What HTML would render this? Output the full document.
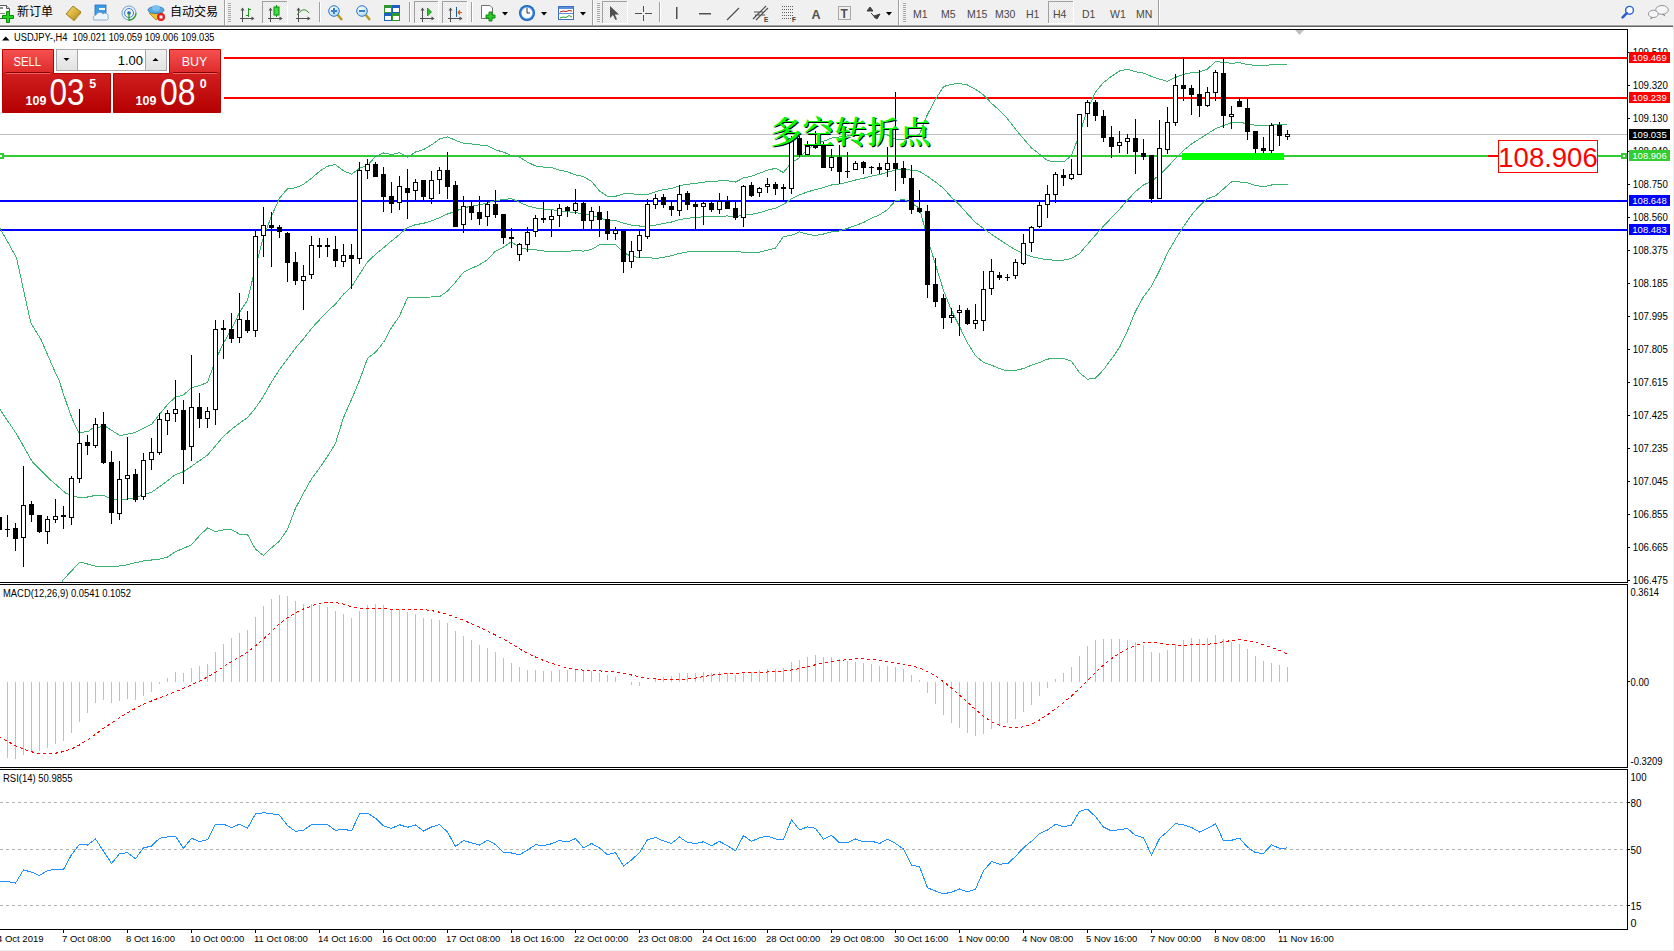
<!DOCTYPE html>
<html><head><meta charset="utf-8"><title>USDJPY-,H4</title>
<style>
html,body{margin:0;padding:0;}
body{width:1674px;height:951px;overflow:hidden;background:#F0F0F0;position:relative;font-family:"Liberation Sans", "Noto Sans CJK SC", sans-serif;}
svg{position:absolute;left:0;top:0;display:block;}
</style></head><body>
<svg id="chart" width="1674" height="951" viewBox="0 0 1674 951"><rect x="0" y="27" width="1673" height="923" fill="#fff"/><defs><clipPath id="cm"><rect x="0" y="30" width="1627" height="552"/></clipPath><clipPath id="cd"><rect x="0" y="585" width="1627" height="182"/></clipPath><clipPath id="cr"><rect x="0" y="770" width="1627" height="159"/></clipPath></defs><g clip-path="url(#cm)"><rect x="0" y="134" width="1627" height="1" fill="#C0C0C0"/><rect x="0" y="57" width="1627" height="2" fill="#FF0000"/><rect x="0" y="97" width="1627" height="2" fill="#FF0000"/><rect x="0" y="155" width="1627" height="2" fill="#32CD32"/><rect x="0" y="200" width="1627" height="2" fill="#0000FF"/><rect x="0" y="229" width="1627" height="2" fill="#0000FF"/><rect x="1182" y="153" width="102" height="7" fill="#00FF00"/><rect x="1621" y="153" width="6" height="6" fill="#32CD32"/><rect x="1623" y="155" width="2" height="2" fill="#fff"/><rect x="-2" y="153" width="6" height="6" fill="#32CD32"/><rect x="0" y="155" width="2" height="2" fill="#fff"/><rect x="1488" y="155" width="10" height="2" fill="#FF0000"/><rect x="1498.5" y="140.5" width="99" height="32" fill="#fff" stroke="#FF0000" stroke-width="1"/><text x="1548" y="167" font-family='"Liberation Sans", "Noto Sans CJK SC", sans-serif' font-size="27.5" fill="#FF0000" text-anchor="middle">108.906</text><polyline points="-1.0,226.7 16.4,257.4 30.8,323.0 41.0,339.5 53.3,368.0 58.9,380.0 63.0,392.6 69.4,411.5 73.6,422.0 78.8,432.6 88.0,431.5 92.5,428.4 105.0,426.0 113.5,431.5 120.0,435.7 134.6,432.6 151.5,424.4 159.5,414.3 167.5,404.6 175.5,397.1 183.5,395.0 191.5,387.6 199.5,385.6 207.5,382.4 215.5,360.1 223.5,343.0 231.5,329.2 239.5,312.4 247.5,300.4 255.5,267.0 263.5,236.8 271.5,216.2 279.5,198.1 287.5,188.8 295.5,187.8 303.5,184.4 311.5,178.2 319.5,171.4 327.5,166.2 335.5,164.6 343.5,170.8 351.5,174.2 359.5,168.3 367.5,165.5 375.5,156.4 383.5,153.0 391.5,154.5 399.5,152.7 407.5,157.2 415.5,152.0 423.5,149.6 431.5,144.9 439.5,138.9 447.5,136.9 455.5,140.3 463.5,143.3 471.5,144.0 479.5,145.0 487.5,145.9 495.5,149.8 503.5,152.2 511.5,155.6 519.5,157.0 527.5,162.2 535.5,165.9 543.5,167.1 551.5,167.6 559.5,170.1 567.5,171.8 575.5,174.9 583.5,176.6 591.5,181.4 599.5,191.0 607.5,196.4 615.5,196.3 623.5,193.9 631.5,193.8 639.5,194.4 647.5,194.6 655.5,191.8 663.5,189.6 671.5,188.5 679.5,185.7 687.5,184.3 695.5,183.4 703.5,182.1 711.5,181.6 719.5,180.9 727.5,180.8 735.5,182.0 743.5,177.9 751.5,176.3 759.5,173.2 767.5,170.2 775.5,168.3 783.5,172.6 791.5,162.4 799.5,157.8 807.5,149.7 815.5,143.4 823.5,141.3 831.5,138.1 839.5,136.9 847.5,136.0 855.5,134.7 863.5,134.0 871.5,134.2 879.5,134.3 887.5,135.0 895.5,139.1 903.5,139.4 911.5,137.2 919.5,134.2 927.5,114.4 935.5,99.3 943.5,86.6 951.5,84.2 959.5,83.6 967.5,85.0 975.5,89.3 983.5,94.8 991.5,103.3 999.5,110.5 1007.5,118.7 1015.5,129.2 1023.5,138.7 1031.5,147.9 1039.5,154.2 1047.5,160.6 1055.5,161.9 1063.5,162.0 1071.5,155.4 1079.5,134.3 1087.5,109.4 1095.5,92.1 1103.5,82.5 1111.5,76.3 1119.5,71.0 1127.5,69.2 1135.5,71.7 1143.5,73.1 1151.5,76.4 1159.5,79.1 1167.5,81.3 1175.5,77.4 1183.5,74.4 1191.5,72.8 1199.5,72.0 1207.5,69.0 1215.5,61.6 1223.5,62.4 1231.5,63.3 1239.5,62.6 1247.5,64.6 1255.5,65.3 1263.5,65.2 1271.5,64.9 1279.5,64.9 1287.5,64.8" fill="none" stroke="#3CB371" stroke-width="1" shape-rendering="crispEdges"/><polyline points="-1.0,408.0 16.4,433.8 32.8,462.5 49.2,478.8 65.6,493.0 73.6,496.7 84.0,497.7 94.6,495.6 105.0,496.0 111.4,498.8 122.0,500.0 134.6,497.7 147.0,493.5 151.5,492.2 159.5,486.7 167.5,480.9 175.5,474.4 183.5,471.7 191.5,466.3 199.5,460.6 207.5,455.2 215.5,445.8 223.5,436.4 231.5,429.4 239.5,423.3 247.5,417.5 255.5,408.1 263.5,396.2 271.5,382.0 279.5,369.6 287.5,359.0 295.5,348.0 303.5,338.8 311.5,328.5 319.5,319.8 327.5,311.4 335.5,304.0 343.5,294.2 351.5,286.8 359.5,274.3 367.5,262.0 375.5,254.3 383.5,247.8 391.5,241.0 399.5,234.4 407.5,227.4 415.5,224.7 423.5,223.3 431.5,220.9 439.5,217.8 447.5,214.0 455.5,211.3 463.5,207.8 471.5,206.2 479.5,204.8 487.5,202.8 495.5,200.5 503.5,199.6 511.5,198.6 519.5,202.3 527.5,205.8 535.5,207.9 543.5,209.0 551.5,209.6 559.5,210.7 567.5,211.6 575.5,212.7 583.5,213.8 591.5,215.4 599.5,217.9 607.5,220.3 615.5,220.4 623.5,223.2 631.5,225.1 639.5,226.0 647.5,226.0 655.5,225.2 663.5,223.5 671.5,222.0 679.5,219.6 687.5,218.2 695.5,217.6 703.5,216.7 711.5,216.4 719.5,216.1 727.5,216.0 735.5,216.8 743.5,215.1 751.5,214.3 759.5,212.7 767.5,210.2 775.5,208.1 783.5,204.5 791.5,198.9 799.5,194.9 807.5,191.9 815.5,189.5 823.5,187.6 831.5,185.0 839.5,183.9 847.5,182.2 855.5,180.0 863.5,178.3 871.5,176.1 879.5,174.6 887.5,172.3 895.5,169.8 903.5,169.4 911.5,170.1 919.5,171.3 927.5,176.4 935.5,182.0 943.5,188.4 951.5,197.3 959.5,205.0 967.5,213.9 975.5,222.5 983.5,228.6 991.5,234.3 999.5,239.6 1007.5,244.9 1015.5,249.8 1023.5,253.6 1031.5,256.6 1039.5,258.3 1047.5,259.9 1055.5,260.1 1063.5,260.2 1071.5,258.4 1079.5,253.5 1087.5,244.3 1095.5,235.1 1103.5,226.1 1111.5,217.7 1119.5,209.3 1127.5,200.0 1135.5,191.6 1143.5,184.9 1151.5,181.3 1159.5,174.9 1167.5,167.1 1175.5,158.3 1183.5,150.5 1191.5,143.9 1199.5,138.9 1207.5,133.8 1215.5,128.7 1223.5,125.6 1231.5,122.6 1239.5,122.3 1247.5,123.7 1255.5,125.4 1263.5,126.0 1271.5,124.9 1279.5,124.6 1287.5,124.5" fill="none" stroke="#3CB371" stroke-width="1" shape-rendering="crispEdges"/><polyline points="61.5,583.5 63.0,580.0 80.0,561.9 94.6,566.0 111.4,567.0 126.0,565.0 147.0,560.0 151.5,560.0 159.5,559.1 167.5,557.1 175.5,551.7 183.5,548.3 191.5,544.9 199.5,535.6 207.5,528.0 215.5,531.6 223.5,529.8 231.5,529.7 239.5,534.1 247.5,534.6 255.5,549.2 263.5,555.6 271.5,547.7 279.5,541.1 287.5,529.2 295.5,508.3 303.5,493.3 311.5,478.8 319.5,468.1 327.5,456.5 335.5,443.3 343.5,417.6 351.5,399.4 359.5,380.4 367.5,358.4 375.5,352.3 383.5,342.5 391.5,327.6 399.5,316.1 407.5,297.7 415.5,297.5 423.5,297.1 431.5,297.0 439.5,296.7 447.5,291.1 455.5,282.2 463.5,272.2 471.5,268.4 479.5,264.7 487.5,259.7 495.5,251.1 503.5,247.1 511.5,241.6 519.5,247.7 527.5,249.4 535.5,249.8 543.5,251.0 551.5,251.7 559.5,251.4 567.5,251.5 575.5,250.5 583.5,251.1 591.5,249.4 599.5,244.8 607.5,244.2 615.5,244.6 623.5,252.6 631.5,256.4 639.5,257.5 647.5,257.4 655.5,258.5 663.5,257.4 671.5,255.6 679.5,253.4 687.5,252.0 695.5,251.7 703.5,251.4 711.5,251.2 719.5,251.3 727.5,251.3 735.5,251.5 743.5,252.2 751.5,252.3 759.5,252.2 767.5,250.2 775.5,248.0 783.5,236.4 791.5,235.4 799.5,231.9 807.5,234.2 815.5,235.6 823.5,234.0 831.5,231.9 839.5,230.9 847.5,228.4 855.5,225.4 863.5,222.6 871.5,218.1 879.5,214.9 887.5,209.6 895.5,200.6 903.5,199.5 911.5,203.0 919.5,208.4 927.5,238.3 935.5,264.7 943.5,290.3 951.5,310.4 959.5,326.5 967.5,342.9 975.5,355.7 983.5,362.5 991.5,365.2 999.5,368.6 1007.5,371.0 1015.5,370.5 1023.5,368.5 1031.5,365.2 1039.5,362.5 1047.5,359.1 1055.5,358.4 1063.5,358.3 1071.5,361.3 1079.5,372.7 1087.5,379.3 1095.5,378.1 1103.5,369.7 1111.5,359.0 1119.5,347.5 1127.5,330.7 1135.5,311.4 1143.5,296.7 1151.5,286.2 1159.5,270.6 1167.5,252.9 1175.5,239.1 1183.5,226.6 1191.5,215.0 1199.5,205.8 1207.5,198.7 1215.5,195.9 1223.5,188.9 1231.5,182.0 1239.5,181.9 1247.5,182.8 1255.5,185.4 1263.5,186.9 1271.5,185.0 1279.5,184.4 1287.5,184.1" fill="none" stroke="#3CB371" stroke-width="1" shape-rendering="crispEdges"/><g fill="#000" shape-rendering="crispEdges"><rect x="-1" y="512" width="1" height="23"/><rect x="-3" y="517" width="5" height="13"/><rect x="7" y="515" width="1" height="22"/><rect x="5" y="529" width="5" height="1"/><rect x="15" y="523" width="1" height="28"/><rect x="13" y="528" width="5" height="11"/><rect x="23" y="466" width="1" height="101"/><rect x="21" y="505" width="5" height="33"/><rect x="22" y="506" width="3" height="31" fill="#fff"/><rect x="31" y="501" width="1" height="21"/><rect x="29" y="504" width="5" height="11"/><rect x="39" y="515" width="1" height="18"/><rect x="37" y="515" width="5" height="17"/><rect x="47" y="516" width="1" height="28"/><rect x="45" y="519" width="5" height="13"/><rect x="46" y="520" width="3" height="11" fill="#fff"/><rect x="55" y="499" width="1" height="24"/><rect x="53" y="516" width="5" height="4"/><rect x="54" y="517" width="3" height="2" fill="#fff"/><rect x="63" y="506" width="1" height="23"/><rect x="61" y="515" width="5" height="2"/><rect x="71" y="476" width="1" height="49"/><rect x="69" y="478" width="5" height="40"/><rect x="70" y="479" width="3" height="38" fill="#fff"/><rect x="79" y="409" width="1" height="74"/><rect x="77" y="443" width="5" height="36"/><rect x="78" y="444" width="3" height="34" fill="#fff"/><rect x="87" y="435" width="1" height="20"/><rect x="85" y="442" width="5" height="4"/><rect x="95" y="418" width="1" height="30"/><rect x="93" y="424" width="5" height="22"/><rect x="94" y="425" width="3" height="20" fill="#fff"/><rect x="103" y="412" width="1" height="52"/><rect x="101" y="424" width="5" height="39"/><rect x="111" y="451" width="1" height="73"/><rect x="109" y="462" width="5" height="51"/><rect x="119" y="461" width="1" height="59"/><rect x="117" y="479" width="5" height="35"/><rect x="118" y="480" width="3" height="33" fill="#fff"/><rect x="127" y="437" width="1" height="63"/><rect x="125" y="475" width="5" height="4"/><rect x="126" y="476" width="3" height="2" fill="#fff"/><rect x="135" y="469" width="1" height="33"/><rect x="133" y="474" width="5" height="26"/><rect x="143" y="453" width="1" height="47"/><rect x="141" y="460" width="5" height="37"/><rect x="142" y="461" width="3" height="35" fill="#fff"/><rect x="151" y="438" width="1" height="32"/><rect x="149" y="452" width="5" height="8"/><rect x="150" y="453" width="3" height="6" fill="#fff"/><rect x="159" y="413" width="1" height="42"/><rect x="157" y="419" width="5" height="34"/><rect x="158" y="420" width="3" height="32" fill="#fff"/><rect x="167" y="410" width="1" height="25"/><rect x="165" y="413" width="5" height="8"/><rect x="166" y="414" width="3" height="6" fill="#fff"/><rect x="175" y="380" width="1" height="42"/><rect x="173" y="409" width="5" height="5"/><rect x="174" y="410" width="3" height="3" fill="#fff"/><rect x="183" y="400" width="1" height="84"/><rect x="181" y="410" width="5" height="40"/><rect x="191" y="355" width="1" height="106"/><rect x="189" y="407" width="5" height="40"/><rect x="190" y="408" width="3" height="38" fill="#fff"/><rect x="199" y="393" width="1" height="35"/><rect x="197" y="407" width="5" height="12"/><rect x="207" y="407" width="1" height="21"/><rect x="205" y="411" width="5" height="8"/><rect x="206" y="412" width="3" height="6" fill="#fff"/><rect x="215" y="320" width="1" height="105"/><rect x="213" y="329" width="5" height="81"/><rect x="214" y="330" width="3" height="79" fill="#fff"/><rect x="223" y="320" width="1" height="39"/><rect x="221" y="328" width="5" height="2"/><rect x="231" y="313" width="1" height="30"/><rect x="229" y="329" width="5" height="10"/><rect x="239" y="293" width="1" height="50"/><rect x="237" y="319" width="5" height="19"/><rect x="238" y="320" width="3" height="17" fill="#fff"/><rect x="247" y="311" width="1" height="22"/><rect x="245" y="320" width="5" height="11"/><rect x="255" y="231" width="1" height="106"/><rect x="253" y="236" width="5" height="95"/><rect x="254" y="237" width="3" height="93" fill="#fff"/><rect x="263" y="207" width="1" height="50"/><rect x="261" y="225" width="5" height="11"/><rect x="262" y="226" width="3" height="9" fill="#fff"/><rect x="271" y="212" width="1" height="55"/><rect x="269" y="225" width="5" height="3"/><rect x="279" y="225" width="1" height="13"/><rect x="277" y="227" width="5" height="5"/><rect x="287" y="232" width="1" height="50"/><rect x="285" y="233" width="5" height="30"/><rect x="295" y="252" width="1" height="33"/><rect x="293" y="262" width="5" height="19"/><rect x="303" y="265" width="1" height="45"/><rect x="301" y="276" width="5" height="5"/><rect x="302" y="277" width="3" height="3" fill="#fff"/><rect x="311" y="236" width="1" height="43"/><rect x="309" y="245" width="5" height="30"/><rect x="310" y="246" width="3" height="28" fill="#fff"/><rect x="319" y="238" width="1" height="20"/><rect x="317" y="245" width="5" height="2"/><rect x="327" y="238" width="1" height="19"/><rect x="325" y="245" width="5" height="2"/><rect x="335" y="236" width="1" height="31"/><rect x="333" y="249" width="5" height="12"/><rect x="343" y="244" width="1" height="23"/><rect x="341" y="255" width="5" height="7"/><rect x="342" y="256" width="3" height="5" fill="#fff"/><rect x="351" y="244" width="1" height="45"/><rect x="349" y="255" width="5" height="4"/><rect x="359" y="162" width="1" height="102"/><rect x="357" y="170" width="5" height="89"/><rect x="358" y="171" width="3" height="87" fill="#fff"/><rect x="367" y="159" width="1" height="20"/><rect x="365" y="164" width="5" height="7"/><rect x="366" y="165" width="3" height="5" fill="#fff"/><rect x="375" y="162" width="1" height="15"/><rect x="373" y="164" width="5" height="13"/><rect x="383" y="167" width="1" height="45"/><rect x="381" y="174" width="5" height="23"/><rect x="391" y="182" width="1" height="31"/><rect x="389" y="196" width="5" height="8"/><rect x="399" y="176" width="1" height="34"/><rect x="397" y="186" width="5" height="17"/><rect x="398" y="187" width="3" height="15" fill="#fff"/><rect x="407" y="169" width="1" height="50"/><rect x="405" y="188" width="5" height="5"/><rect x="415" y="179" width="1" height="22"/><rect x="413" y="182" width="5" height="9"/><rect x="414" y="183" width="3" height="7" fill="#fff"/><rect x="423" y="180" width="1" height="20"/><rect x="421" y="180" width="5" height="17"/><rect x="431" y="171" width="1" height="33"/><rect x="429" y="180" width="5" height="19"/><rect x="430" y="181" width="3" height="17" fill="#fff"/><rect x="439" y="167" width="1" height="27"/><rect x="437" y="170" width="5" height="10"/><rect x="438" y="171" width="3" height="8" fill="#fff"/><rect x="447" y="152" width="1" height="47"/><rect x="445" y="170" width="5" height="17"/><rect x="455" y="181" width="1" height="46"/><rect x="453" y="185" width="5" height="42"/><rect x="463" y="196" width="1" height="37"/><rect x="461" y="206" width="5" height="19"/><rect x="462" y="207" width="3" height="17" fill="#fff"/><rect x="471" y="200" width="1" height="20"/><rect x="469" y="206" width="5" height="7"/><rect x="479" y="196" width="1" height="29"/><rect x="477" y="212" width="5" height="7"/><rect x="487" y="200" width="1" height="26"/><rect x="485" y="204" width="5" height="13"/><rect x="486" y="205" width="3" height="11" fill="#fff"/><rect x="495" y="190" width="1" height="28"/><rect x="493" y="204" width="5" height="11"/><rect x="503" y="214" width="1" height="30"/><rect x="501" y="214" width="5" height="24"/><rect x="511" y="228" width="1" height="20"/><rect x="509" y="237" width="5" height="2"/><rect x="519" y="243" width="1" height="18"/><rect x="517" y="244" width="5" height="11"/><rect x="518" y="245" width="3" height="9" fill="#fff"/><rect x="527" y="227" width="1" height="25"/><rect x="525" y="232" width="5" height="13"/><rect x="526" y="233" width="3" height="11" fill="#fff"/><rect x="535" y="215" width="1" height="22"/><rect x="533" y="218" width="5" height="14"/><rect x="534" y="219" width="3" height="12" fill="#fff"/><rect x="543" y="200" width="1" height="23"/><rect x="541" y="218" width="5" height="2"/><rect x="551" y="210" width="1" height="27"/><rect x="549" y="216" width="5" height="4"/><rect x="550" y="217" width="3" height="2" fill="#fff"/><rect x="559" y="204" width="1" height="23"/><rect x="557" y="208" width="5" height="8"/><rect x="558" y="209" width="3" height="6" fill="#fff"/><rect x="567" y="206" width="1" height="11"/><rect x="565" y="207" width="5" height="4"/><rect x="575" y="189" width="1" height="25"/><rect x="573" y="203" width="5" height="8"/><rect x="574" y="204" width="3" height="6" fill="#fff"/><rect x="583" y="202" width="1" height="28"/><rect x="581" y="203" width="5" height="18"/><rect x="591" y="207" width="1" height="23"/><rect x="589" y="211" width="5" height="10"/><rect x="590" y="212" width="3" height="8" fill="#fff"/><rect x="599" y="206" width="1" height="31"/><rect x="597" y="212" width="5" height="8"/><rect x="607" y="211" width="1" height="29"/><rect x="605" y="219" width="5" height="15"/><rect x="615" y="227" width="1" height="13"/><rect x="613" y="230" width="5" height="4"/><rect x="614" y="231" width="3" height="2" fill="#fff"/><rect x="623" y="231" width="1" height="42"/><rect x="621" y="231" width="5" height="31"/><rect x="631" y="241" width="1" height="27"/><rect x="629" y="251" width="5" height="11"/><rect x="630" y="252" width="3" height="9" fill="#fff"/><rect x="639" y="231" width="1" height="27"/><rect x="637" y="235" width="5" height="16"/><rect x="638" y="236" width="3" height="14" fill="#fff"/><rect x="647" y="199" width="1" height="40"/><rect x="645" y="204" width="5" height="33"/><rect x="646" y="205" width="3" height="31" fill="#fff"/><rect x="655" y="194" width="1" height="15"/><rect x="653" y="198" width="5" height="7"/><rect x="654" y="199" width="3" height="5" fill="#fff"/><rect x="663" y="194" width="1" height="14"/><rect x="661" y="197" width="5" height="8"/><rect x="671" y="202" width="1" height="14"/><rect x="669" y="206" width="5" height="4"/><rect x="679" y="185" width="1" height="31"/><rect x="677" y="194" width="5" height="17"/><rect x="678" y="195" width="3" height="15" fill="#fff"/><rect x="687" y="191" width="1" height="19"/><rect x="685" y="193" width="5" height="12"/><rect x="695" y="202" width="1" height="28"/><rect x="693" y="204" width="5" height="3"/><rect x="703" y="202" width="1" height="23"/><rect x="701" y="203" width="5" height="4"/><rect x="702" y="204" width="3" height="2" fill="#fff"/><rect x="711" y="201" width="1" height="11"/><rect x="709" y="203" width="5" height="7"/><rect x="719" y="193" width="1" height="21"/><rect x="717" y="201" width="5" height="9"/><rect x="718" y="202" width="3" height="7" fill="#fff"/><rect x="727" y="196" width="1" height="13"/><rect x="725" y="201" width="5" height="8"/><rect x="735" y="202" width="1" height="18"/><rect x="733" y="208" width="5" height="10"/><rect x="743" y="185" width="1" height="42"/><rect x="741" y="186" width="5" height="32"/><rect x="742" y="187" width="3" height="30" fill="#fff"/><rect x="751" y="182" width="1" height="15"/><rect x="749" y="185" width="5" height="11"/><rect x="759" y="187" width="1" height="10"/><rect x="757" y="188" width="5" height="5"/><rect x="758" y="189" width="3" height="3" fill="#fff"/><rect x="767" y="178" width="1" height="15"/><rect x="765" y="184" width="5" height="3"/><rect x="766" y="185" width="3" height="1" fill="#fff"/><rect x="775" y="182" width="1" height="13"/><rect x="773" y="184" width="5" height="5"/><rect x="783" y="184" width="1" height="17"/><rect x="781" y="187" width="5" height="2"/><rect x="791" y="136" width="1" height="58"/><rect x="789" y="138" width="5" height="51"/><rect x="790" y="139" width="3" height="49" fill="#fff"/><rect x="799" y="136" width="1" height="21"/><rect x="797" y="138" width="5" height="17"/><rect x="807" y="141" width="1" height="14"/><rect x="805" y="146" width="5" height="9"/><rect x="806" y="147" width="3" height="7" fill="#fff"/><rect x="815" y="131" width="1" height="18"/><rect x="813" y="145" width="5" height="3"/><rect x="823" y="142" width="1" height="26"/><rect x="821" y="146" width="5" height="22"/><rect x="831" y="149" width="1" height="22"/><rect x="829" y="157" width="5" height="11"/><rect x="830" y="158" width="3" height="9" fill="#fff"/><rect x="839" y="145" width="1" height="39"/><rect x="837" y="157" width="5" height="15"/><rect x="847" y="152" width="1" height="26"/><rect x="845" y="171" width="5" height="1"/><rect x="855" y="161" width="1" height="9"/><rect x="853" y="163" width="5" height="7"/><rect x="854" y="164" width="3" height="5" fill="#fff"/><rect x="863" y="161" width="1" height="13"/><rect x="861" y="162" width="5" height="6"/><rect x="871" y="166" width="1" height="8"/><rect x="869" y="167" width="5" height="1"/><rect x="879" y="163" width="1" height="11"/><rect x="877" y="167" width="5" height="3"/><rect x="887" y="147" width="1" height="30"/><rect x="885" y="163" width="5" height="7"/><rect x="886" y="164" width="3" height="5" fill="#fff"/><rect x="895" y="92" width="1" height="99"/><rect x="893" y="163" width="5" height="6"/><rect x="903" y="161" width="1" height="23"/><rect x="901" y="168" width="5" height="10"/><rect x="911" y="165" width="1" height="49"/><rect x="909" y="178" width="5" height="32"/><rect x="919" y="190" width="1" height="23"/><rect x="917" y="208" width="5" height="4"/><rect x="927" y="205" width="1" height="93"/><rect x="925" y="211" width="5" height="74"/><rect x="935" y="258" width="1" height="49"/><rect x="933" y="284" width="5" height="18"/><rect x="943" y="294" width="1" height="35"/><rect x="941" y="298" width="5" height="20"/><rect x="951" y="308" width="1" height="15"/><rect x="949" y="315" width="5" height="3"/><rect x="950" y="316" width="3" height="1" fill="#fff"/><rect x="959" y="305" width="1" height="31"/><rect x="957" y="310" width="5" height="3"/><rect x="958" y="311" width="3" height="1" fill="#fff"/><rect x="967" y="308" width="1" height="17"/><rect x="965" y="310" width="5" height="14"/><rect x="975" y="304" width="1" height="25"/><rect x="973" y="320" width="5" height="4"/><rect x="974" y="321" width="3" height="2" fill="#fff"/><rect x="983" y="271" width="1" height="60"/><rect x="981" y="289" width="5" height="32"/><rect x="982" y="290" width="3" height="30" fill="#fff"/><rect x="991" y="259" width="1" height="36"/><rect x="989" y="271" width="5" height="18"/><rect x="990" y="272" width="3" height="16" fill="#fff"/><rect x="999" y="272" width="1" height="8"/><rect x="997" y="275" width="5" height="3"/><rect x="1007" y="274" width="1" height="7"/><rect x="1005" y="277" width="5" height="1"/><rect x="1015" y="259" width="1" height="20"/><rect x="1013" y="262" width="5" height="14"/><rect x="1014" y="263" width="3" height="12" fill="#fff"/><rect x="1023" y="234" width="1" height="31"/><rect x="1021" y="243" width="5" height="21"/><rect x="1022" y="244" width="3" height="19" fill="#fff"/><rect x="1031" y="226" width="1" height="26"/><rect x="1029" y="227" width="5" height="16"/><rect x="1030" y="228" width="3" height="14" fill="#fff"/><rect x="1039" y="202" width="1" height="26"/><rect x="1037" y="205" width="5" height="22"/><rect x="1038" y="206" width="3" height="20" fill="#fff"/><rect x="1047" y="185" width="1" height="33"/><rect x="1045" y="194" width="5" height="11"/><rect x="1046" y="195" width="3" height="9" fill="#fff"/><rect x="1055" y="172" width="1" height="31"/><rect x="1053" y="174" width="5" height="21"/><rect x="1054" y="175" width="3" height="19" fill="#fff"/><rect x="1063" y="169" width="1" height="17"/><rect x="1061" y="175" width="5" height="3"/><rect x="1071" y="159" width="1" height="21"/><rect x="1069" y="174" width="5" height="5"/><rect x="1070" y="175" width="3" height="3" fill="#fff"/><rect x="1079" y="114" width="1" height="61"/><rect x="1077" y="114" width="5" height="61"/><rect x="1078" y="115" width="3" height="59" fill="#fff"/><rect x="1087" y="100" width="1" height="27"/><rect x="1085" y="102" width="5" height="12"/><rect x="1086" y="103" width="3" height="10" fill="#fff"/><rect x="1095" y="100" width="1" height="21"/><rect x="1093" y="102" width="5" height="14"/><rect x="1103" y="110" width="1" height="32"/><rect x="1101" y="116" width="5" height="22"/><rect x="1111" y="126" width="1" height="32"/><rect x="1109" y="137" width="5" height="10"/><rect x="1119" y="131" width="1" height="22"/><rect x="1117" y="142" width="5" height="4"/><rect x="1118" y="143" width="3" height="2" fill="#fff"/><rect x="1127" y="134" width="1" height="20"/><rect x="1125" y="138" width="5" height="4"/><rect x="1126" y="139" width="3" height="2" fill="#fff"/><rect x="1135" y="119" width="1" height="55"/><rect x="1133" y="138" width="5" height="14"/><rect x="1143" y="139" width="1" height="21"/><rect x="1141" y="153" width="5" height="4"/><rect x="1151" y="155" width="1" height="48"/><rect x="1149" y="155" width="5" height="44"/><rect x="1159" y="120" width="1" height="79"/><rect x="1157" y="148" width="5" height="51"/><rect x="1158" y="149" width="3" height="49" fill="#fff"/><rect x="1167" y="107" width="1" height="47"/><rect x="1165" y="122" width="5" height="28"/><rect x="1166" y="123" width="3" height="26" fill="#fff"/><rect x="1175" y="74" width="1" height="52"/><rect x="1173" y="85" width="5" height="38"/><rect x="1174" y="86" width="3" height="36" fill="#fff"/><rect x="1183" y="57" width="1" height="44"/><rect x="1181" y="85" width="5" height="4"/><rect x="1191" y="85" width="1" height="30"/><rect x="1189" y="88" width="5" height="7"/><rect x="1199" y="70" width="1" height="47"/><rect x="1197" y="94" width="5" height="12"/><rect x="1207" y="87" width="1" height="20"/><rect x="1205" y="92" width="5" height="14"/><rect x="1206" y="93" width="3" height="12" fill="#fff"/><rect x="1215" y="70" width="1" height="31"/><rect x="1213" y="72" width="5" height="21"/><rect x="1214" y="73" width="3" height="19" fill="#fff"/><rect x="1223" y="58" width="1" height="70"/><rect x="1221" y="73" width="5" height="43"/><rect x="1231" y="106" width="1" height="23"/><rect x="1229" y="114" width="5" height="3"/><rect x="1230" y="115" width="3" height="1" fill="#fff"/><rect x="1239" y="97" width="1" height="10"/><rect x="1237" y="101" width="5" height="6"/><rect x="1247" y="99" width="1" height="41"/><rect x="1245" y="108" width="5" height="24"/><rect x="1255" y="131" width="1" height="22"/><rect x="1253" y="131" width="5" height="18"/><rect x="1263" y="137" width="1" height="16"/><rect x="1261" y="148" width="5" height="3"/><rect x="1271" y="123" width="1" height="30"/><rect x="1269" y="125" width="5" height="26"/><rect x="1270" y="126" width="3" height="24" fill="#fff"/><rect x="1279" y="122" width="1" height="24"/><rect x="1277" y="125" width="5" height="11"/><rect x="1287" y="130" width="1" height="10"/><rect x="1285" y="134" width="5" height="3"/><rect x="1286" y="135" width="3" height="1" fill="#fff"/></g><text x="771" y="144" font-family='"Liberation Serif", "Noto Serif CJK SC", serif' font-weight="600" font-size="31" fill="#000010" textLength="161" lengthAdjust="spacingAndGlyphs">多空转折点</text><text x="770" y="143" font-family='"Liberation Serif", "Noto Serif CJK SC", serif' font-weight="600" font-size="31" fill="#00FF00" textLength="161" lengthAdjust="spacingAndGlyphs">多空转折点</text></g><polygon points="1295,30 1304,30 1299.5,35" fill="#C0C0C0"/><g clip-path="url(#cd)"><g fill="#C0C0C0" shape-rendering="crispEdges"><rect x="-1" y="682" width="1" height="75"/><rect x="7" y="682" width="1" height="76"/><rect x="15" y="682" width="1" height="77"/><rect x="23" y="682" width="1" height="73"/><rect x="31" y="682" width="1" height="70"/><rect x="39" y="682" width="1" height="69"/><rect x="47" y="682" width="1" height="66"/><rect x="55" y="682" width="1" height="62"/><rect x="63" y="682" width="1" height="59"/><rect x="71" y="682" width="1" height="51"/><rect x="79" y="682" width="1" height="40"/><rect x="87" y="682" width="1" height="31"/><rect x="95" y="682" width="1" height="21"/><rect x="103" y="682" width="1" height="18"/><rect x="111" y="682" width="1" height="21"/><rect x="119" y="682" width="1" height="19"/><rect x="127" y="682" width="1" height="17"/><rect x="135" y="682" width="1" height="18"/><rect x="143" y="682" width="1" height="14"/><rect x="151" y="682" width="1" height="10"/><rect x="159" y="682" width="1" height="2"/><rect x="167" y="678" width="1" height="4"/><rect x="175" y="672" width="1" height="10"/><rect x="183" y="673" width="1" height="9"/><rect x="191" y="668" width="1" height="14"/><rect x="199" y="666" width="1" height="16"/><rect x="207" y="664" width="1" height="18"/><rect x="215" y="652" width="1" height="30"/><rect x="223" y="644" width="1" height="38"/><rect x="231" y="638" width="1" height="44"/><rect x="239" y="633" width="1" height="49"/><rect x="247" y="630" width="1" height="52"/><rect x="255" y="617" width="1" height="65"/><rect x="263" y="606" width="1" height="76"/><rect x="271" y="599" width="1" height="83"/><rect x="279" y="595" width="1" height="87"/><rect x="287" y="596" width="1" height="86"/><rect x="295" y="601" width="1" height="81"/><rect x="303" y="604" width="1" height="78"/><rect x="311" y="604" width="1" height="78"/><rect x="319" y="605" width="1" height="77"/><rect x="327" y="607" width="1" height="75"/><rect x="335" y="611" width="1" height="71"/><rect x="343" y="614" width="1" height="68"/><rect x="351" y="618" width="1" height="64"/><rect x="359" y="611" width="1" height="71"/><rect x="367" y="605" width="1" height="77"/><rect x="375" y="604" width="1" height="78"/><rect x="383" y="605" width="1" height="77"/><rect x="391" y="609" width="1" height="73"/><rect x="399" y="610" width="1" height="72"/><rect x="407" y="612" width="1" height="70"/><rect x="415" y="614" width="1" height="68"/><rect x="423" y="618" width="1" height="64"/><rect x="431" y="619" width="1" height="63"/><rect x="439" y="620" width="1" height="62"/><rect x="447" y="623" width="1" height="59"/><rect x="455" y="631" width="1" height="51"/><rect x="463" y="636" width="1" height="46"/><rect x="471" y="640" width="1" height="42"/><rect x="479" y="645" width="1" height="37"/><rect x="487" y="648" width="1" height="34"/><rect x="495" y="652" width="1" height="30"/><rect x="503" y="658" width="1" height="24"/><rect x="511" y="663" width="1" height="19"/><rect x="519" y="667" width="1" height="15"/><rect x="527" y="670" width="1" height="12"/><rect x="535" y="670" width="1" height="12"/><rect x="543" y="671" width="1" height="11"/><rect x="551" y="671" width="1" height="11"/><rect x="559" y="670" width="1" height="12"/><rect x="567" y="670" width="1" height="12"/><rect x="575" y="669" width="1" height="13"/><rect x="583" y="671" width="1" height="11"/><rect x="591" y="671" width="1" height="11"/><rect x="599" y="673" width="1" height="9"/><rect x="607" y="675" width="1" height="7"/><rect x="615" y="677" width="1" height="5"/><rect x="631" y="682" width="1" height="3"/><rect x="639" y="682" width="1" height="4"/><rect x="655" y="679" width="1" height="3"/><rect x="663" y="677" width="1" height="5"/><rect x="671" y="676" width="1" height="6"/><rect x="679" y="673" width="1" height="9"/><rect x="687" y="673" width="1" height="9"/><rect x="695" y="673" width="1" height="9"/><rect x="703" y="672" width="1" height="10"/><rect x="711" y="673" width="1" height="9"/><rect x="719" y="672" width="1" height="10"/><rect x="727" y="673" width="1" height="9"/><rect x="735" y="675" width="1" height="7"/><rect x="743" y="672" width="1" height="10"/><rect x="751" y="672" width="1" height="10"/><rect x="759" y="670" width="1" height="12"/><rect x="767" y="669" width="1" height="13"/><rect x="775" y="669" width="1" height="13"/><rect x="783" y="668" width="1" height="14"/><rect x="791" y="662" width="1" height="20"/><rect x="799" y="660" width="1" height="22"/><rect x="807" y="657" width="1" height="25"/><rect x="815" y="655" width="1" height="27"/><rect x="823" y="657" width="1" height="25"/><rect x="831" y="657" width="1" height="25"/><rect x="839" y="659" width="1" height="23"/><rect x="847" y="661" width="1" height="21"/><rect x="855" y="662" width="1" height="20"/><rect x="863" y="663" width="1" height="19"/><rect x="871" y="664" width="1" height="18"/><rect x="879" y="666" width="1" height="16"/><rect x="887" y="666" width="1" height="16"/><rect x="895" y="667" width="1" height="15"/><rect x="903" y="669" width="1" height="13"/><rect x="911" y="675" width="1" height="7"/><rect x="919" y="680" width="1" height="2"/><rect x="927" y="682" width="1" height="11"/><rect x="935" y="682" width="1" height="22"/><rect x="943" y="682" width="1" height="33"/><rect x="951" y="682" width="1" height="41"/><rect x="959" y="682" width="1" height="46"/><rect x="967" y="682" width="1" height="51"/><rect x="975" y="682" width="1" height="54"/><rect x="983" y="682" width="1" height="52"/><rect x="991" y="682" width="1" height="47"/><rect x="999" y="682" width="1" height="44"/><rect x="1007" y="682" width="1" height="41"/><rect x="1015" y="682" width="1" height="37"/><rect x="1023" y="682" width="1" height="30"/><rect x="1031" y="682" width="1" height="23"/><rect x="1039" y="682" width="1" height="14"/><rect x="1047" y="682" width="1" height="6"/><rect x="1055" y="679" width="1" height="3"/><rect x="1063" y="673" width="1" height="9"/><rect x="1071" y="667" width="1" height="15"/><rect x="1079" y="656" width="1" height="26"/><rect x="1087" y="646" width="1" height="36"/><rect x="1095" y="640" width="1" height="42"/><rect x="1103" y="639" width="1" height="43"/><rect x="1111" y="639" width="1" height="43"/><rect x="1119" y="639" width="1" height="43"/><rect x="1127" y="640" width="1" height="42"/><rect x="1135" y="642" width="1" height="40"/><rect x="1143" y="645" width="1" height="37"/><rect x="1151" y="652" width="1" height="30"/><rect x="1159" y="653" width="1" height="29"/><rect x="1167" y="650" width="1" height="32"/><rect x="1175" y="644" width="1" height="38"/><rect x="1183" y="640" width="1" height="42"/><rect x="1191" y="638" width="1" height="44"/><rect x="1199" y="639" width="1" height="43"/><rect x="1207" y="638" width="1" height="44"/><rect x="1215" y="635" width="1" height="47"/><rect x="1223" y="639" width="1" height="43"/><rect x="1231" y="642" width="1" height="40"/><rect x="1239" y="644" width="1" height="38"/><rect x="1247" y="649" width="1" height="33"/><rect x="1255" y="656" width="1" height="26"/><rect x="1263" y="661" width="1" height="21"/><rect x="1271" y="663" width="1" height="19"/><rect x="1279" y="665" width="1" height="17"/><rect x="1287" y="667" width="1" height="15"/></g><polyline points="-1.5,737.5 -0.5,737.0 7.5,741.4 15.5,745.7 23.5,749.2 31.5,751.8 39.5,753.5 47.5,753.9 55.5,753.2 63.5,751.6 71.5,749.0 79.5,745.0 87.5,739.9 95.5,734.2 103.5,728.4 111.5,723.1 119.5,717.9 127.5,712.9 135.5,708.4 143.5,704.3 151.5,701.0 159.5,697.8 167.5,694.9 175.5,691.8 183.5,688.4 191.5,684.8 199.5,681.1 207.5,677.0 215.5,672.2 223.5,666.8 231.5,661.7 239.5,656.7 247.5,652.0 255.5,645.8 263.5,638.9 271.5,631.5 279.5,623.8 287.5,617.6 295.5,612.8 303.5,609.0 311.5,605.9 319.5,603.2 327.5,602.0 335.5,602.5 343.5,604.1 351.5,606.7 359.5,608.3 367.5,608.8 375.5,608.7 383.5,608.8 391.5,609.2 399.5,609.5 407.5,609.7 415.5,609.7 423.5,609.6 431.5,610.6 439.5,612.2 447.5,614.4 455.5,617.3 463.5,620.3 471.5,623.7 479.5,627.4 487.5,631.2 495.5,635.0 503.5,639.2 511.5,644.0 519.5,648.9 527.5,653.2 535.5,657.0 543.5,660.4 551.5,663.3 559.5,665.8 567.5,667.9 575.5,669.2 583.5,670.2 591.5,670.6 599.5,670.9 607.5,671.4 615.5,672.1 623.5,673.3 631.5,675.0 639.5,676.7 647.5,678.1 655.5,678.9 663.5,679.5 671.5,679.9 679.5,679.6 687.5,679.1 695.5,678.1 703.5,676.6 711.5,675.2 719.5,674.1 727.5,673.5 735.5,673.3 743.5,672.9 751.5,672.7 759.5,672.4 767.5,672.0 775.5,671.6 783.5,671.1 791.5,670.0 799.5,668.6 807.5,666.6 815.5,664.8 823.5,663.1 831.5,661.6 839.5,660.5 847.5,659.7 855.5,658.9 863.5,659.0 871.5,659.5 879.5,660.4 887.5,661.6 895.5,662.7 903.5,664.1 911.5,665.9 919.5,668.0 927.5,671.5 935.5,676.0 943.5,681.7 951.5,688.1 959.5,694.9 967.5,702.3 975.5,709.6 983.5,716.2 991.5,721.7 999.5,725.4 1007.5,727.5 1015.5,727.9 1023.5,726.8 1031.5,724.2 1039.5,720.1 1047.5,714.8 1055.5,708.8 1063.5,702.5 1071.5,695.9 1079.5,688.4 1087.5,680.3 1095.5,672.3 1103.5,665.0 1111.5,658.7 1119.5,653.2 1127.5,648.9 1135.5,645.4 1143.5,642.9 1151.5,642.5 1159.5,643.3 1167.5,644.4 1175.5,645.0 1183.5,645.1 1191.5,644.9 1199.5,644.8 1207.5,644.3 1215.5,643.3 1223.5,641.7 1231.5,640.6 1239.5,639.9 1247.5,640.5 1255.5,642.2 1263.5,644.7 1271.5,647.4 1279.5,650.5 1287.5,654.1" fill="none" stroke="#FF0000" stroke-width="1" stroke-dasharray="3 3" shape-rendering="crispEdges"/></g><g clip-path="url(#cr)"><line x1="0" y1="802.5" x2="1627" y2="802.5" stroke="#B4B4B4" stroke-width="1" stroke-dasharray="3 3" shape-rendering="crispEdges"/><line x1="0" y1="849.5" x2="1627" y2="849.5" stroke="#B4B4B4" stroke-width="1" stroke-dasharray="3 3" shape-rendering="crispEdges"/><line x1="0" y1="905.5" x2="1627" y2="905.5" stroke="#B4B4B4" stroke-width="1" stroke-dasharray="3 3" shape-rendering="crispEdges"/><polyline points="-0.5,881.7 7.5,881.5 15.5,883.2 23.5,869.9 31.5,872.1 39.5,875.5 47.5,870.5 55.5,869.3 63.5,869.5 71.5,854.7 79.5,844.1 87.5,845.1 95.5,838.9 103.5,851.2 111.5,863.4 119.5,853.7 127.5,852.7 135.5,858.7 143.5,848.0 151.5,846.0 159.5,838.3 167.5,837.0 175.5,836.1 183.5,848.3 191.5,838.2 199.5,841.6 207.5,839.7 215.5,824.2 223.5,824.1 231.5,827.6 239.5,824.1 247.5,828.1 255.5,814.0 263.5,812.7 271.5,813.7 279.5,815.1 287.5,825.6 295.5,831.3 303.5,830.2 311.5,824.5 319.5,824.5 327.5,824.5 335.5,830.5 343.5,829.1 351.5,830.9 359.5,814.0 367.5,813.1 375.5,818.2 383.5,825.8 391.5,828.4 399.5,824.7 407.5,827.3 415.5,824.9 423.5,831.0 431.5,827.0 439.5,824.5 447.5,832.0 455.5,846.5 463.5,840.5 471.5,842.9 479.5,845.0 487.5,840.3 495.5,844.5 503.5,852.6 511.5,853.0 519.5,854.7 527.5,850.1 535.5,844.8 543.5,845.5 551.5,843.8 559.5,840.5 567.5,841.9 575.5,838.6 583.5,847.9 591.5,843.5 599.5,848.0 607.5,854.7 615.5,852.7 623.5,865.9 631.5,859.9 639.5,852.5 647.5,839.8 655.5,837.5 663.5,840.9 671.5,843.4 679.5,837.1 687.5,842.5 695.5,843.5 703.5,841.8 711.5,845.6 719.5,841.4 727.5,845.8 735.5,850.8 743.5,835.6 751.5,841.4 759.5,837.7 767.5,836.2 775.5,839.0 783.5,839.3 791.5,819.9 799.5,829.9 807.5,826.9 815.5,828.3 823.5,839.4 831.5,835.3 839.5,842.8 847.5,842.5 855.5,839.0 863.5,842.0 871.5,841.1 879.5,843.5 887.5,839.3 895.5,843.4 903.5,849.1 911.5,865.3 919.5,866.5 927.5,887.8 935.5,891.0 943.5,893.8 951.5,892.2 959.5,889.0 967.5,891.9 975.5,889.1 983.5,870.9 991.5,861.6 999.5,864.1 1007.5,863.8 1015.5,856.4 1023.5,847.8 1031.5,841.2 1039.5,833.7 1047.5,830.0 1055.5,824.4 1063.5,826.7 1071.5,825.2 1079.5,811.3 1087.5,809.2 1095.5,816.6 1103.5,827.0 1111.5,831.0 1119.5,829.6 1127.5,828.6 1135.5,835.4 1143.5,837.7 1151.5,855.1 1159.5,838.4 1167.5,831.6 1175.5,823.6 1183.5,824.9 1191.5,827.4 1199.5,832.0 1207.5,828.4 1215.5,823.8 1223.5,840.8 1231.5,840.3 1239.5,838.1 1247.5,847.2 1255.5,852.7 1263.5,853.4 1271.5,844.7 1279.5,848.4 1287.5,847.9" fill="none" stroke="#1E90FF" stroke-width="1" shape-rendering="crispEdges"/></g><rect x="0" y="29" width="1628" height="1" fill="#000"/><rect x="0" y="582" width="1628" height="1" fill="#000"/><rect x="0" y="584" width="1628" height="1" fill="#000"/><rect x="0" y="767" width="1628" height="1" fill="#000"/><rect x="0" y="769" width="1628" height="1" fill="#000"/><rect x="0" y="929" width="1628" height="1" fill="#000"/><rect x="1627" y="29" width="1" height="554" fill="#000"/><rect x="1627" y="584" width="1" height="184" fill="#000"/><rect x="1627" y="769" width="1" height="161" fill="#000"/><rect x="1628" y="52" width="2" height="1" fill="#000"/><rect x="1628" y="85" width="2" height="1" fill="#000"/><rect x="1628" y="118" width="2" height="1" fill="#000"/><rect x="1628" y="151" width="2" height="1" fill="#000"/><rect x="1628" y="184" width="2" height="1" fill="#000"/><rect x="1628" y="217" width="2" height="1" fill="#000"/><rect x="1628" y="250" width="2" height="1" fill="#000"/><rect x="1628" y="283" width="2" height="1" fill="#000"/><rect x="1628" y="316" width="2" height="1" fill="#000"/><rect x="1628" y="349" width="2" height="1" fill="#000"/><rect x="1628" y="382" width="2" height="1" fill="#000"/><rect x="1628" y="415" width="2" height="1" fill="#000"/><rect x="1628" y="448" width="2" height="1" fill="#000"/><rect x="1628" y="481" width="2" height="1" fill="#000"/><rect x="1628" y="514" width="2" height="1" fill="#000"/><rect x="1628" y="547" width="2" height="1" fill="#000"/><rect x="1628" y="580" width="2" height="1" fill="#000"/><rect x="1628" y="681" width="2" height="1" fill="#000"/><rect x="1628" y="802" width="2" height="1" fill="#000"/><rect x="1628" y="849" width="2" height="1" fill="#000"/><rect x="1628" y="905" width="2" height="1" fill="#000"/><rect x="63" y="930" width="1" height="3" fill="#000"/><rect x="127" y="930" width="1" height="3" fill="#000"/><rect x="191" y="930" width="1" height="3" fill="#000"/><rect x="255" y="930" width="1" height="3" fill="#000"/><rect x="319" y="930" width="1" height="3" fill="#000"/><rect x="383" y="930" width="1" height="3" fill="#000"/><rect x="447" y="930" width="1" height="3" fill="#000"/><rect x="511" y="930" width="1" height="3" fill="#000"/><rect x="575" y="930" width="1" height="3" fill="#000"/><rect x="639" y="930" width="1" height="3" fill="#000"/><rect x="703" y="930" width="1" height="3" fill="#000"/><rect x="767" y="930" width="1" height="3" fill="#000"/><rect x="831" y="930" width="1" height="3" fill="#000"/><rect x="895" y="930" width="1" height="3" fill="#000"/><rect x="959" y="930" width="1" height="3" fill="#000"/><rect x="1023" y="930" width="1" height="3" fill="#000"/><rect x="1087" y="930" width="1" height="3" fill="#000"/><rect x="1151" y="930" width="1" height="3" fill="#000"/><rect x="1215" y="930" width="1" height="3" fill="#000"/><rect x="1279" y="930" width="1" height="3" fill="#000"/><polygon points="2,40.5 9.5,40.5 5.75,36.5" fill="#000"/><g font-family='"Liberation Sans", "Noto Sans CJK SC", sans-serif'><text x="1632.8" y="56" font-size="10" fill="#000" text-anchor="start" font-weight="normal" textLength="35" lengthAdjust="spacingAndGlyphs">109.510</text><text x="1632.8" y="89" font-size="10" fill="#000" text-anchor="start" font-weight="normal" textLength="35" lengthAdjust="spacingAndGlyphs">109.320</text><text x="1632.8" y="122" font-size="10" fill="#000" text-anchor="start" font-weight="normal" textLength="35" lengthAdjust="spacingAndGlyphs">109.130</text><text x="1632.8" y="155" font-size="10" fill="#000" text-anchor="start" font-weight="normal" textLength="35" lengthAdjust="spacingAndGlyphs">108.940</text><text x="1632.8" y="188" font-size="10" fill="#000" text-anchor="start" font-weight="normal" textLength="35" lengthAdjust="spacingAndGlyphs">108.750</text><text x="1632.8" y="221" font-size="10" fill="#000" text-anchor="start" font-weight="normal" textLength="35" lengthAdjust="spacingAndGlyphs">108.560</text><text x="1632.8" y="254" font-size="10" fill="#000" text-anchor="start" font-weight="normal" textLength="35" lengthAdjust="spacingAndGlyphs">108.375</text><text x="1632.8" y="287" font-size="10" fill="#000" text-anchor="start" font-weight="normal" textLength="35" lengthAdjust="spacingAndGlyphs">108.185</text><text x="1632.8" y="320" font-size="10" fill="#000" text-anchor="start" font-weight="normal" textLength="35" lengthAdjust="spacingAndGlyphs">107.995</text><text x="1632.8" y="353" font-size="10" fill="#000" text-anchor="start" font-weight="normal" textLength="35" lengthAdjust="spacingAndGlyphs">107.805</text><text x="1632.8" y="386" font-size="10" fill="#000" text-anchor="start" font-weight="normal" textLength="35" lengthAdjust="spacingAndGlyphs">107.615</text><text x="1632.8" y="419" font-size="10" fill="#000" text-anchor="start" font-weight="normal" textLength="35" lengthAdjust="spacingAndGlyphs">107.425</text><text x="1632.8" y="452" font-size="10" fill="#000" text-anchor="start" font-weight="normal" textLength="35" lengthAdjust="spacingAndGlyphs">107.235</text><text x="1632.8" y="485" font-size="10" fill="#000" text-anchor="start" font-weight="normal" textLength="35" lengthAdjust="spacingAndGlyphs">107.045</text><text x="1632.8" y="518" font-size="10" fill="#000" text-anchor="start" font-weight="normal" textLength="35" lengthAdjust="spacingAndGlyphs">106.855</text><text x="1632.8" y="551" font-size="10" fill="#000" text-anchor="start" font-weight="normal" textLength="35" lengthAdjust="spacingAndGlyphs">106.665</text><text x="1632.8" y="584" font-size="10" fill="#000" text-anchor="start" font-weight="normal" textLength="35" lengthAdjust="spacingAndGlyphs">106.475</text><text x="1630.5" y="595.5" font-size="10" fill="#000" text-anchor="start" font-weight="normal" textLength="28.5" lengthAdjust="spacingAndGlyphs">0.3614</text><text x="1630.5" y="685.5" font-size="10" fill="#000" text-anchor="start" font-weight="normal" textLength="18.5" lengthAdjust="spacingAndGlyphs">0.00</text><text x="1630.5" y="764.5" font-size="10" fill="#000" text-anchor="start" font-weight="normal" textLength="32.0" lengthAdjust="spacingAndGlyphs">-0.3209</text><text x="1630.5" y="780.5" font-size="10" fill="#000" text-anchor="start" font-weight="normal" textLength="16.0" lengthAdjust="spacingAndGlyphs">100</text><text x="1630.5" y="806.5" font-size="10" fill="#000" text-anchor="start" font-weight="normal" textLength="11.0" lengthAdjust="spacingAndGlyphs">80</text><text x="1630.5" y="853.5" font-size="10" fill="#000" text-anchor="start" font-weight="normal" textLength="11.0" lengthAdjust="spacingAndGlyphs">50</text><text x="1630.5" y="909.5" font-size="10" fill="#000" text-anchor="start" font-weight="normal" textLength="11.0" lengthAdjust="spacingAndGlyphs">15</text><text x="1630.5" y="926.5" font-size="10" fill="#000" text-anchor="start" font-weight="normal" textLength="6.0" lengthAdjust="spacingAndGlyphs">0</text><text x="43.5" y="942" font-size="9.5" fill="#000" text-anchor="end" font-weight="normal">4 Oct 2019</text><text x="62" y="942" font-size="9.5" fill="#000" text-anchor="start" font-weight="normal">7 Oct 08:00</text><text x="126" y="942" font-size="9.5" fill="#000" text-anchor="start" font-weight="normal">8 Oct 16:00</text><text x="190" y="942" font-size="9.5" fill="#000" text-anchor="start" font-weight="normal">10 Oct 00:00</text><text x="254" y="942" font-size="9.5" fill="#000" text-anchor="start" font-weight="normal">11 Oct 08:00</text><text x="318" y="942" font-size="9.5" fill="#000" text-anchor="start" font-weight="normal">14 Oct 16:00</text><text x="382" y="942" font-size="9.5" fill="#000" text-anchor="start" font-weight="normal">16 Oct 00:00</text><text x="446" y="942" font-size="9.5" fill="#000" text-anchor="start" font-weight="normal">17 Oct 08:00</text><text x="510" y="942" font-size="9.5" fill="#000" text-anchor="start" font-weight="normal">18 Oct 16:00</text><text x="574" y="942" font-size="9.5" fill="#000" text-anchor="start" font-weight="normal">22 Oct 00:00</text><text x="638" y="942" font-size="9.5" fill="#000" text-anchor="start" font-weight="normal">23 Oct 08:00</text><text x="702" y="942" font-size="9.5" fill="#000" text-anchor="start" font-weight="normal">24 Oct 16:00</text><text x="766" y="942" font-size="9.5" fill="#000" text-anchor="start" font-weight="normal">28 Oct 00:00</text><text x="830" y="942" font-size="9.5" fill="#000" text-anchor="start" font-weight="normal">29 Oct 08:00</text><text x="894" y="942" font-size="9.5" fill="#000" text-anchor="start" font-weight="normal">30 Oct 16:00</text><text x="958" y="942" font-size="9.5" fill="#000" text-anchor="start" font-weight="normal">1 Nov 00:00</text><text x="1022" y="942" font-size="9.5" fill="#000" text-anchor="start" font-weight="normal">4 Nov 08:00</text><text x="1086" y="942" font-size="9.5" fill="#000" text-anchor="start" font-weight="normal">5 Nov 16:00</text><text x="1150" y="942" font-size="9.5" fill="#000" text-anchor="start" font-weight="normal">7 Nov 00:00</text><text x="1214" y="942" font-size="9.5" fill="#000" text-anchor="start" font-weight="normal">8 Nov 08:00</text><text x="1278" y="942" font-size="9.5" fill="#000" text-anchor="start" font-weight="normal">11 Nov 16:00</text><text x="14" y="40.5" font-size="10" fill="#000" text-anchor="start" font-weight="normal" textLength="200.5" lengthAdjust="spacingAndGlyphs">USDJPY-,H4&#160;&#160;109.021 109.059 109.006 109.035</text><text x="3" y="596.5" font-size="10" fill="#000" text-anchor="start" font-weight="normal" textLength="128" lengthAdjust="spacingAndGlyphs">MACD(12,26,9) 0.0541 0.1052</text><text x="3" y="781.5" font-size="10" fill="#000" text-anchor="start" font-weight="normal" textLength="69.5" lengthAdjust="spacingAndGlyphs">RSI(14) 50.9855</text><rect x="1629" y="52" width="41" height="11" fill="#FF0000"/><text x="1649.5" y="60.5" font-size="9.5" fill="#fff" text-anchor="middle">109.469</text><rect x="1629" y="92" width="41" height="11" fill="#FF0000"/><text x="1649.5" y="100.5" font-size="9.5" fill="#fff" text-anchor="middle">109.239</text><rect x="1629" y="129" width="41" height="11" fill="#000000"/><text x="1649.5" y="137.5" font-size="9.5" fill="#fff" text-anchor="middle">109.035</text><rect x="1629" y="150" width="41" height="11" fill="#32CD32"/><text x="1649.5" y="158.5" font-size="9.5" fill="#fff" text-anchor="middle">108.906</text><rect x="1629" y="195" width="41" height="11" fill="#0000FF"/><text x="1649.5" y="203.5" font-size="9.5" fill="#fff" text-anchor="middle">108.648</text><rect x="1629" y="224" width="41" height="11" fill="#0000FF"/><text x="1649.5" y="232.5" font-size="9.5" fill="#fff" text-anchor="middle">108.483</text></g></svg>
<svg id="tb" width="1674" height="29" viewBox="0 0 1674 29"><defs><pattern id="dith" width="2" height="2" patternUnits="userSpaceOnUse"><rect width="2" height="2" fill="#F7F7F7"/><rect width="1" height="1" fill="#E6E6E6"/><rect x="1" y="1" width="1" height="1" fill="#E6E6E6"/></pattern><linearGradient id="tbg" x1="0" y1="0" x2="0" y2="1"><stop offset="0" stop-color="#F0F0F0"/><stop offset="1" stop-color="#F0F0F0"/></linearGradient><radialGradient id="lens" cx="0.4" cy="0.35" r="0.7"><stop offset="0" stop-color="#FFFFFF"/><stop offset="1" stop-color="#A8D4F0"/></radialGradient><linearGradient id="book" x1="0" y1="0" x2="1" y2="1"><stop offset="0" stop-color="#F8E070"/><stop offset="1" stop-color="#B88A10"/></linearGradient><radialGradient id="clk" cx="0.5" cy="0.5" r="0.5"><stop offset="0.6" stop-color="#FFFFFF"/><stop offset="0.75" stop-color="#3C8CE0"/><stop offset="1" stop-color="#0A50B0"/></radialGradient></defs><rect x="0" y="0" width="1674" height="25" fill="#F0F0F0"/><rect x="0" y="24" width="1673" height="1" fill="#F4F4F4"/><rect x="0" y="25" width="1673" height="1" fill="#A4A4A4"/><rect x="0" y="26" width="1673" height="1" fill="#646464"/><rect x="0" y="27" width="1673" height="2" fill="#FFFFFF"/><rect x="1673" y="25" width="1" height="4" fill="#E0E0E0"/><path d="M-1,5.5 H6.5 L9.5,8.5 V18.5 H-1Z" fill="#fff" stroke="#5A5A5A" stroke-width="1"/><path d="M6.5,5.5 V8.5 H9.5" fill="#E0E0E0" stroke="#5A5A5A" stroke-width="1"/><rect x="0" y="7" width="3" height="2" fill="#8A8A8A"/><rect x="0" y="13" width="5" height="1" fill="#8A8A8A"/><path d="M6.5,11.5 h3 v4 h4 v3 h-4 v4 h-3 v-4 h-4 v-3 h4z" fill="#22D422" stroke="#0A8A0A" stroke-width="1"/><text x="17" y="16" font-family='"Liberation Sans", "Noto Sans CJK SC", "WenQuanYi Zen Hei", sans-serif' font-size="12" fill="#000">新订单</text><path d="M66,14 L73,6 L81,12 L74,20Z" fill="url(#book)" stroke="#8A6A10" stroke-width="0.8"/><path d="M67,15 L74,21 L81,13" fill="none" stroke="#C8A040" stroke-width="1"/><rect x="95" y="5" width="11" height="10" fill="#3C9BE8" stroke="#1F6FC0" stroke-width="0.8"/><rect x="99" y="8" width="6" height="2" fill="#fff"/><path d="M94,20 a3,3 0 0 1 2,-5 a4,4 0 0 1 7,-1 a3,3 0 0 1 5,3 a2,2 0 0 1 -1,3Z" fill="#EEF4FA" stroke="#7A9CC0" stroke-width="0.8"/><circle cx="129" cy="13" r="7" fill="none" stroke="#6FA0D8" stroke-width="1"/><circle cx="129" cy="13" r="4.5" fill="none" stroke="#4080D0" stroke-width="1"/><circle cx="129" cy="13" r="1.8" fill="#2060C0"/><path d="M129,13 L129,21 M129,20 a7,7 0 0 0 7,-7" fill="none" stroke="#30A030" stroke-width="1.3"/><path d="M149,13 L156,20 L163,13Z" fill="#F0C030" stroke="#B08010" stroke-width="0.8"/><ellipse cx="156" cy="10" rx="8" ry="3.5" fill="#5AAAE0" stroke="#2A70B0" stroke-width="0.8"/><ellipse cx="156" cy="8" rx="4" ry="3" fill="#7CC0F0"/><circle cx="161" cy="17" r="4" fill="#E02020"/><rect x="159.5" y="15.5" width="3" height="3" fill="#fff"/><text x="170" y="16" font-family='"Liberation Sans", "Noto Sans CJK SC", "WenQuanYi Zen Hei", sans-serif' font-size="12" fill="#000">自动交易</text><rect x="224" y="0" width="1" height="25" fill="#A0A0A0"/><rect x="225" y="0" width="1" height="25" fill="#fff"/><rect x="228" y="3" width="3" height="1" fill="#A8A8A8"/><rect x="228" y="5" width="3" height="1" fill="#A8A8A8"/><rect x="228" y="7" width="3" height="1" fill="#A8A8A8"/><rect x="228" y="9" width="3" height="1" fill="#A8A8A8"/><rect x="228" y="11" width="3" height="1" fill="#A8A8A8"/><rect x="228" y="13" width="3" height="1" fill="#A8A8A8"/><rect x="228" y="15" width="3" height="1" fill="#A8A8A8"/><rect x="228" y="17" width="3" height="1" fill="#A8A8A8"/><rect x="228" y="19" width="3" height="1" fill="#A8A8A8"/><rect x="228" y="21" width="3" height="1" fill="#A8A8A8"/><rect x="242" y="8" width="1" height="14" fill="#505050"/><rect x="240" y="18" width="14" height="1" fill="#505050"/><path d="M240.5,10.5 L242.5,7.5 L244.5,10.5Z" fill="#505050"/><path d="M251.5,16.5 L254.5,18.5 L251.5,20.5Z" fill="#505050"/><rect x="248" y="8" width="1" height="9" fill="#1A9A1A"/><rect x="249" y="9" width="2" height="1" fill="#1A9A1A"/><rect x="246" y="15" width="2" height="1" fill="#1A9A1A"/><rect x="262" y="1" width="26" height="22" fill="url(#dith)"/><rect x="262" y="1" width="26" height="1" fill="#A0A0A0"/><rect x="262" y="1" width="1" height="22" fill="#A0A0A0"/><rect x="262" y="23" width="26" height="1" fill="#fff"/><rect x="287" y="1" width="1" height="23" fill="#fff"/><rect x="270" y="8" width="1" height="14" fill="#505050"/><rect x="268" y="18" width="14" height="1" fill="#505050"/><path d="M268.5,10.5 L270.5,7.5 L272.5,10.5Z" fill="#505050"/><path d="M279.5,16.5 L282.5,18.5 L279.5,20.5Z" fill="#505050"/><rect x="276" y="5" width="1" height="12" fill="#0A8A0A"/><rect x="274" y="7" width="5" height="8" fill="#3CE03C" stroke="#0A8A0A" stroke-width="1"/><rect x="298" y="8" width="1" height="14" fill="#505050"/><rect x="296" y="18" width="14" height="1" fill="#505050"/><path d="M296.5,10.5 L298.5,7.5 L300.5,10.5Z" fill="#505050"/><path d="M307.5,16.5 L310.5,18.5 L307.5,20.5Z" fill="#505050"/><path d="M297,15 Q303,7 307,11 L309,13" fill="none" stroke="#2A9A2A" stroke-width="1"/><rect x="319" y="2" width="1" height="20" fill="#A0A0A0"/><rect x="320" y="2" width="1" height="20" fill="#fff"/><path d="M337,14 L342,20" stroke="#B89A20" stroke-width="2.5"/><circle cx="334" cy="11" r="5.3" fill="url(#lens)" stroke="#2A7AD0" stroke-width="1"/><rect x="331" y="10" width="6" height="2" fill="#3A80C8"/><rect x="333" y="8" width="2" height="6" fill="#3A80C8"/><path d="M365,14 L370,20" stroke="#B89A20" stroke-width="2.5"/><circle cx="362" cy="11" r="5.3" fill="url(#lens)" stroke="#2A7AD0" stroke-width="1"/><rect x="359" y="10" width="6" height="2" fill="#3A80C8"/><rect x="384" y="5" width="8" height="8" fill="#2E9A2E"/><rect x="385" y="8" width="6" height="4" fill="#fff"/><rect x="392" y="5" width="8" height="8" fill="#1E5EC8"/><rect x="393" y="8" width="6" height="4" fill="#fff"/><rect x="384" y="13" width="8" height="8" fill="#1E5EC8"/><rect x="385" y="16" width="6" height="4" fill="#fff"/><rect x="392" y="13" width="8" height="8" fill="#2E9A2E"/><rect x="393" y="16" width="6" height="4" fill="#fff"/><rect x="409" y="2" width="1" height="20" fill="#A0A0A0"/><rect x="410" y="2" width="1" height="20" fill="#fff"/><rect x="414" y="1" width="25" height="22" fill="url(#dith)"/><rect x="414" y="1" width="25" height="1" fill="#A0A0A0"/><rect x="414" y="1" width="1" height="22" fill="#A0A0A0"/><rect x="414" y="23" width="25" height="1" fill="#fff"/><rect x="438" y="1" width="1" height="23" fill="#fff"/><rect x="422" y="8" width="1" height="14" fill="#505050"/><rect x="420" y="18" width="14" height="1" fill="#505050"/><path d="M420.5,10.5 L422.5,7.5 L424.5,10.5Z" fill="#505050"/><path d="M431.5,16.5 L434.5,18.5 L431.5,20.5Z" fill="#505050"/><path d="M427.5,8 L431.5,12 L427.5,16Z" fill="#20C020" stroke="#108010" stroke-width="0.7"/><rect x="442" y="1" width="26" height="22" fill="url(#dith)"/><rect x="442" y="1" width="26" height="1" fill="#A0A0A0"/><rect x="442" y="1" width="1" height="22" fill="#A0A0A0"/><rect x="442" y="23" width="26" height="1" fill="#fff"/><rect x="467" y="1" width="1" height="23" fill="#fff"/><rect x="450" y="8" width="1" height="14" fill="#505050"/><rect x="448" y="18" width="14" height="1" fill="#505050"/><path d="M448.5,10.5 L450.5,7.5 L452.5,10.5Z" fill="#505050"/><path d="M459.5,16.5 L462.5,18.5 L459.5,20.5Z" fill="#505050"/><rect x="456" y="7" width="1" height="10" fill="#1060B0"/><path d="M458,12.5 L462,12.5 M458,12.5 L460,10.5 M458,12.5 L460,14.5" stroke="#E05010" stroke-width="1.2" fill="none"/><rect x="471" y="2" width="1" height="20" fill="#A0A0A0"/><rect x="472" y="2" width="1" height="20" fill="#fff"/><path d="M481.5,5.5 H490 L492.5,8 V18.5 H481.5Z" fill="#fff" stroke="#707070" stroke-width="1"/><path d="M486,15 h3 v-3 h3 v3 h3 v3 h-3 v3 h-3 v-3 h-3z" fill="#2ACB2A" stroke="#0A8A0A" stroke-width="1"/><path d="M502,12 L508,12 L505,15.5Z" fill="#000"/><circle cx="527" cy="13" r="8" fill="url(#clk)"/><path d="M527,8 V13 H530" stroke="#303030" stroke-width="1" fill="none"/><path d="M541,12 L547,12 L544,15.5Z" fill="#000"/><rect x="558.5" y="6.5" width="15" height="13" fill="#fff" stroke="#3A70C0" stroke-width="1"/><rect x="559" y="7" width="14" height="2" fill="#5A90D8"/><rect x="559" y="13" width="14" height="1" fill="#5A90D8"/><path d="M560,12 L563,11 L566,11.5 L569,10.5 L572,11" stroke="#B02010" fill="none" stroke-width="1"/><path d="M560,18 L563,17 L566,17.5 L569,15.5 L572,17" stroke="#20A020" fill="none" stroke-width="1"/><path d="M580,12 L586,12 L583,15.5Z" fill="#000"/><rect x="592" y="0" width="1" height="25" fill="#A0A0A0"/><rect x="593" y="0" width="1" height="25" fill="#fff"/><rect x="597" y="3" width="3" height="1" fill="#A8A8A8"/><rect x="597" y="5" width="3" height="1" fill="#A8A8A8"/><rect x="597" y="7" width="3" height="1" fill="#A8A8A8"/><rect x="597" y="9" width="3" height="1" fill="#A8A8A8"/><rect x="597" y="11" width="3" height="1" fill="#A8A8A8"/><rect x="597" y="13" width="3" height="1" fill="#A8A8A8"/><rect x="597" y="15" width="3" height="1" fill="#A8A8A8"/><rect x="597" y="17" width="3" height="1" fill="#A8A8A8"/><rect x="597" y="19" width="3" height="1" fill="#A8A8A8"/><rect x="597" y="21" width="3" height="1" fill="#A8A8A8"/><rect x="602" y="1" width="26" height="22" fill="url(#dith)"/><rect x="602" y="1" width="26" height="1" fill="#A0A0A0"/><rect x="602" y="1" width="1" height="22" fill="#A0A0A0"/><rect x="602" y="23" width="26" height="1" fill="#fff"/><rect x="627" y="1" width="1" height="23" fill="#fff"/><path d="M610,6 L610,18 L613,15 L615.5,20 L617,19.3 L614.8,14.5 L619,14.5Z" fill="#505050"/><rect x="643" y="6" width="1" height="15" fill="#505050"/><rect x="635" y="13" width="17" height="1" fill="#505050"/><rect x="642" y="12" width="3" height="3" fill="#F0F0F0"/><rect x="659" y="2" width="1" height="20" fill="#A0A0A0"/><rect x="660" y="2" width="1" height="20" fill="#fff"/><rect x="676" y="7" width="1.5" height="12" fill="#505050"/><rect x="699" y="13" width="12" height="1.5" fill="#505050"/><path d="M727,20 L739,8" stroke="#505050" stroke-width="1.3"/><path d="M753,19 L766,6 M756,20 L768,8 M755,15 L765,15 M754,12 L764,12" stroke="#505050" stroke-width="1.2" fill="none"/><text x="764" y="22" font-family='"Liberation Sans", "Noto Sans CJK SC", sans-serif' font-size="6.5" font-weight="bold" fill="#404040">E</text><path d="M782,6.5 H794" stroke="#606060" stroke-width="1" stroke-dasharray="1 1"/><path d="M782,9.5 H794" stroke="#606060" stroke-width="1" stroke-dasharray="1 1"/><path d="M782,12.5 H794" stroke="#606060" stroke-width="1" stroke-dasharray="1 1"/><path d="M782,15.5 H794" stroke="#606060" stroke-width="1" stroke-dasharray="1 1"/><path d="M782,18.5 H794" stroke="#606060" stroke-width="1" stroke-dasharray="1 1"/><text x="792" y="22" font-family='"Liberation Sans", "Noto Sans CJK SC", sans-serif' font-size="6.5" font-weight="bold" fill="#404040">F</text><text x="811.5" y="18.5" font-family='"Liberation Sans", "Noto Sans CJK SC", sans-serif' font-size="12.5" font-weight="bold" fill="#505050">A</text><rect x="838.5" y="6.5" width="12" height="13" fill="none" stroke="#606060" stroke-width="1" stroke-dasharray="1 1"/><text x="840.5" y="18" font-family='"Liberation Sans", "Noto Sans CJK SC", sans-serif' font-size="12" font-weight="bold" fill="#505050">T</text><path d="M867,11 L870,7 L873,11Z M871,13 L874,16 L880,14 L877,19 L874,17" fill="#404040" stroke="#404040" stroke-width="1"/><path d="M886,12 L892,12 L889,15.5Z" fill="#000"/><rect x="898" y="0" width="1" height="25" fill="#A0A0A0"/><rect x="899" y="0" width="1" height="25" fill="#fff"/><rect x="903" y="3" width="3" height="1" fill="#A8A8A8"/><rect x="903" y="5" width="3" height="1" fill="#A8A8A8"/><rect x="903" y="7" width="3" height="1" fill="#A8A8A8"/><rect x="903" y="9" width="3" height="1" fill="#A8A8A8"/><rect x="903" y="11" width="3" height="1" fill="#A8A8A8"/><rect x="903" y="13" width="3" height="1" fill="#A8A8A8"/><rect x="903" y="15" width="3" height="1" fill="#A8A8A8"/><rect x="903" y="17" width="3" height="1" fill="#A8A8A8"/><rect x="903" y="19" width="3" height="1" fill="#A8A8A8"/><rect x="903" y="21" width="3" height="1" fill="#A8A8A8"/><rect x="1048" y="1" width="26" height="22" fill="url(#dith)"/><rect x="1048" y="1" width="26" height="1" fill="#A0A0A0"/><rect x="1048" y="1" width="1" height="22" fill="#A0A0A0"/><rect x="1048" y="23" width="26" height="1" fill="#fff"/><rect x="1073" y="1" width="1" height="23" fill="#fff"/><text x="913" y="17.5" font-family='"Liberation Sans", "Noto Sans CJK SC", sans-serif' font-size="10.5" fill="#484848">M1</text><text x="941" y="17.5" font-family='"Liberation Sans", "Noto Sans CJK SC", sans-serif' font-size="10.5" fill="#484848">M5</text><text x="967" y="17.5" font-family='"Liberation Sans", "Noto Sans CJK SC", sans-serif' font-size="10.5" fill="#484848">M15</text><text x="995" y="17.5" font-family='"Liberation Sans", "Noto Sans CJK SC", sans-serif' font-size="10.5" fill="#484848">M30</text><text x="1026" y="17.5" font-family='"Liberation Sans", "Noto Sans CJK SC", sans-serif' font-size="10.5" fill="#484848">H1</text><text x="1053" y="17.5" font-family='"Liberation Sans", "Noto Sans CJK SC", sans-serif' font-size="10.5" fill="#484848">H4</text><text x="1082" y="17.5" font-family='"Liberation Sans", "Noto Sans CJK SC", sans-serif' font-size="10.5" fill="#484848">D1</text><text x="1110" y="17.5" font-family='"Liberation Sans", "Noto Sans CJK SC", sans-serif' font-size="10.5" fill="#484848">W1</text><text x="1136" y="17.5" font-family='"Liberation Sans", "Noto Sans CJK SC", sans-serif' font-size="10.5" fill="#484848">MN</text><rect x="1158" y="0" width="1" height="25" fill="#A0A0A0"/><rect x="1159" y="0" width="1" height="25" fill="#fff"/><circle cx="1629.5" cy="10.3" r="3.9" fill="#fff" stroke="#2A62D0" stroke-width="1.4"/><path d="M1626.8,13.2 L1622.6,17.4" stroke="#2A5ED0" stroke-width="2.6" stroke-linecap="round"/><path d="M1664,14 l1.5,2.5 l-3.5,-2z" fill="#707070"/><ellipse cx="1662" cy="9.9" rx="6.3" ry="4.4" fill="#F6F6F8" stroke="#8A8A8A" stroke-width="0.9"/><path d="M1651.5,17 l-1.5,2.5 l3.5,-2z" fill="#707070"/><ellipse cx="1653.3" cy="13.9" rx="4.9" ry="3.6" fill="#F6F6F8" stroke="#8A8A8A" stroke-width="0.9"/></svg>
<svg id="panel" width="224" height="116" viewBox="0 0 224 116" style="left:0;top:0"><defs><linearGradient id="tab" x1="0" y1="0" x2="0" y2="1"><stop offset="0" stop-color="#F65050"/><stop offset="1" stop-color="#DE2C2C"/></linearGradient><linearGradient id="big" x1="0" y1="0" x2="0" y2="1"><stop offset="0" stop-color="#E23030"/><stop offset="1" stop-color="#B40000"/></linearGradient><linearGradient id="btn" x1="0" y1="0" x2="0" y2="1"><stop offset="0" stop-color="#F2F2F2"/><stop offset="1" stop-color="#E2E2E2"/></linearGradient></defs><rect x="0" y="44" width="224" height="72" fill="#fff"/><path d="M2.5,49.5 H53.5 V73.5 H110.5 V112.5 H2.5Z" fill="url(#big)" stroke="#B80000" stroke-width="1"/><path d="M3,50 H53 V72 H3Z" fill="url(#tab)"/><rect x="6" y="72" width="44" height="1" fill="#8A0000"/><rect x="6" y="73" width="44" height="1" fill="#F06060"/><path d="M113.5,73.5 H169.5 V49.5 H220.5 V112.5 H113.5Z" fill="url(#big)" stroke="#B80000" stroke-width="1"/><path d="M170,50 H220 V72 H170Z" fill="url(#tab)"/><rect x="173" y="72" width="44" height="1" fill="#8A0000"/><rect x="173" y="73" width="44" height="1" fill="#F06060"/><rect x="56.5" y="49.5" width="110" height="21" fill="#fff" stroke="#A8A8A8" stroke-width="1"/><rect x="57" y="50" width="20" height="20" fill="url(#btn)"/><rect x="77" y="50" width="1" height="20" fill="#A8A8A8"/><rect x="146" y="50" width="20" height="20" fill="url(#btn)"/><rect x="145" y="50" width="1" height="20" fill="#A8A8A8"/><path d="M63.5,58 H69.5 L66.5,61Z" fill="#000"/><path d="M152.5,61 H158.5 L155.5,58Z" fill="#000"/><text x="143" y="64.5" font-family='"Liberation Sans", "Noto Sans CJK SC", sans-serif' font-size="13" fill="#000" text-anchor="end">1.00</text><g font-family='"Liberation Sans", "Noto Sans CJK SC", sans-serif' fill="#fff"><text x="13.5" y="65.5" font-size="12.5" textLength="27.5" lengthAdjust="spacingAndGlyphs">SELL</text><text x="194.5" y="65.5" font-size="12.5" text-anchor="middle">BUY</text><text x="25.5" y="104.5" font-size="12.5" font-weight="bold">109</text><text x="49.5" y="104.5" font-size="36" textLength="35" lengthAdjust="spacingAndGlyphs">03</text><text x="89.3" y="88" font-size="12.5" font-weight="bold">5</text><text x="135.5" y="104.5" font-size="12.5" font-weight="bold">109</text><text x="160" y="104.5" font-size="36" textLength="35.5" lengthAdjust="spacingAndGlyphs">08</text><text x="199.8" y="88" font-size="12.5" font-weight="bold">0</text></g></svg>
</body></html>
